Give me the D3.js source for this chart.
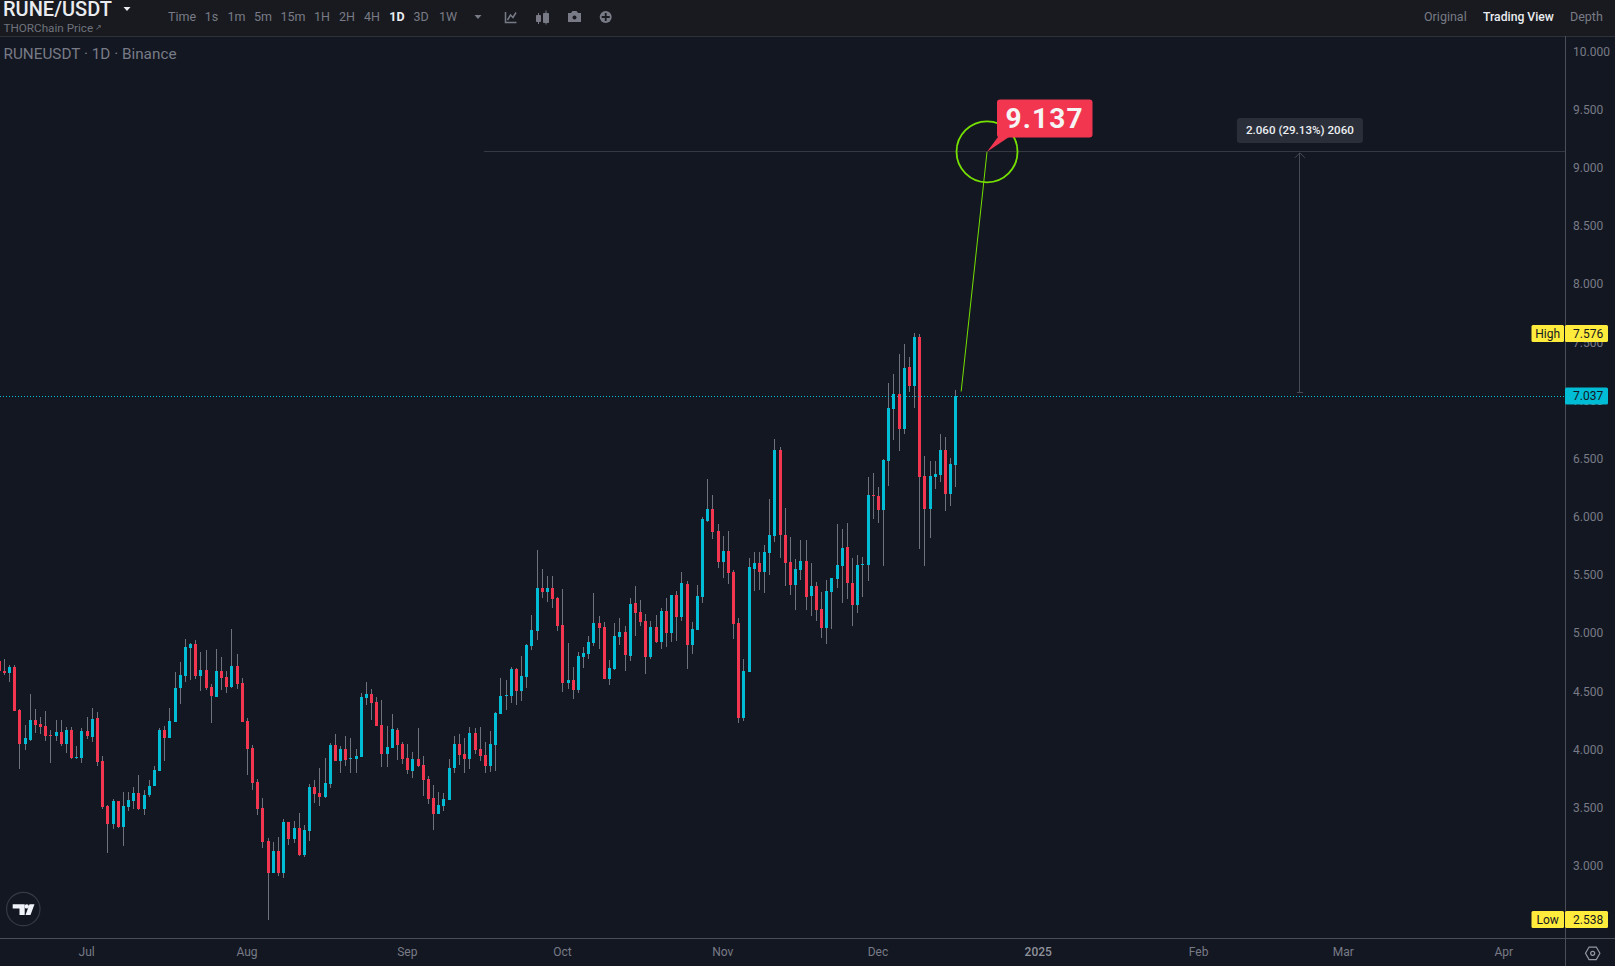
<!DOCTYPE html>
<html>
<head>
<meta charset="utf-8">
<script src="https://cdn.jsdelivr.net/npm/d3@7/dist/d3.min.js"></script>
<style>
html,body{margin:0;padding:0;background:#131722;overflow:hidden}
svg{display:block}
text{font-family:Roboto,"Noto Sans",sans-serif}
</style>
</head>
<body>
<svg id="c" width="1615" height="966"></svg>
<script>
const opens = [
4.761,4.675,4.657,4.709,4.339,4.047,4.081,4.253,4.219,4.202,
4.124,4.116,4.150,4.047,4.167,3.927,3.927,4.159,4.107,4.271,
3.901,3.514,3.359,3.557,3.334,3.506,3.557,3.626,3.488,3.609,
3.686,3.815,4.167,4.099,4.236,4.528,4.632,4.872,4.907,4.632,
4.683,4.537,4.451,4.675,4.623,4.537,4.718,4.571,4.245,4.013,
3.720,3.497,3.213,2.938,3.127,2.938,3.377,3.230,3.325,3.093,
3.299,3.677,3.626,3.592,3.704,4.039,3.901,4.004,3.918,3.918,
3.936,4.443,4.477,4.408,4.211,3.961,4.013,4.168,4.047,3.927,
3.815,3.918,3.867,3.747,3.583,3.446,3.514,3.566,3.841,4.047,
3.961,3.918,4.142,4.004,3.953,3.858,4.039,4.305,4.460,4.460,
4.692,4.503,4.623,4.890,5.019,5.388,5.354,5.388,5.302,5.070,
4.572,4.598,4.512,4.795,4.821,4.916,5.088,5.053,4.606,4.692,
4.967,5.010,4.804,5.259,5.182,5.105,4.795,5.053,4.924,5.190,
5.001,5.328,5.139,5.422,4.898,5.027,5.311,5.964,6.067,5.878,
5.611,5.706,5.525,5.087,4.270,4.666,5.551,5.603,5.525,5.689,
5.835,6.574,5.843,5.611,5.414,5.543,5.620,5.319,5.405,5.207,
5.044,5.354,5.465,5.577,5.740,5.431,5.242,5.586,5.586,6.187,
6.179,6.058,6.479,6.926,7.055,6.754,7.287,7.124,7.545,6.350,
6.066,6.341,6.358,6.573,6.195,6.445];
const highs = [
4.775,4.775,4.726,4.726,4.348,4.210,4.477,4.348,4.279,4.331,
4.167,4.253,4.253,4.193,4.193,4.030,4.185,4.279,4.357,4.322,
3.944,3.523,3.574,3.557,3.635,3.635,3.677,3.781,3.652,3.738,
3.858,4.185,4.202,4.357,4.666,4.752,4.950,4.915,4.941,4.838,
4.855,4.563,4.864,4.795,4.675,5.036,4.821,4.614,4.271,4.038,
3.746,3.583,3.239,3.205,3.248,3.402,3.377,3.385,3.454,3.351,
3.703,3.738,3.841,3.927,4.056,4.133,4.030,4.116,4.099,4.004,
4.486,4.580,4.520,4.451,4.426,4.202,4.305,4.185,4.065,4.047,
3.979,4.185,3.944,3.772,3.695,3.635,3.626,3.918,4.116,4.133,
4.099,4.194,4.185,4.194,4.065,4.159,4.323,4.615,4.598,4.709,
4.701,4.804,4.907,5.156,5.715,5.552,5.492,5.492,5.311,5.380,
4.916,4.709,4.838,4.881,4.976,5.345,5.148,5.096,4.769,5.088,
5.131,5.062,5.302,5.406,5.285,5.165,5.104,5.156,5.216,5.302,
5.328,5.362,5.525,5.448,5.096,5.414,5.998,6.325,6.187,5.938,
5.835,5.878,5.543,5.130,4.778,5.646,5.697,5.697,5.758,6.153,
6.669,6.600,6.076,5.826,5.637,5.800,5.800,5.603,5.439,5.354,
5.457,5.474,5.938,5.895,5.947,5.646,5.672,5.654,6.342,6.376,
6.256,6.497,7.149,7.227,7.399,7.485,7.373,7.576,7.571,6.522,
6.479,6.479,6.711,6.685,6.505,7.089];
const lows = [
4.669,4.640,4.580,4.334,3.832,3.996,4.073,4.142,4.133,4.073,
3.884,4.073,4.030,3.970,3.918,3.918,3.884,4.090,4.064,3.858,
3.488,3.110,3.316,3.325,3.170,3.471,3.488,3.480,3.437,3.592,
3.686,3.815,3.901,4.099,4.236,4.391,4.580,4.597,4.606,4.503,
4.511,4.228,4.451,4.511,4.486,4.528,4.520,4.236,3.781,3.652,
3.437,3.153,2.538,2.938,2.912,2.895,3.179,3.196,3.084,3.076,
3.213,3.540,3.514,3.583,3.669,3.901,3.798,3.858,3.798,3.798,
3.936,4.383,4.254,4.202,3.850,3.850,4.013,3.910,3.876,3.790,
3.755,3.850,3.600,3.532,3.308,3.446,3.472,3.566,3.798,3.867,
3.798,3.833,3.961,3.901,3.798,3.807,3.815,4.305,4.340,4.400,
4.383,4.417,4.529,4.855,4.941,5.302,5.268,5.216,5.019,4.494,
4.520,4.434,4.486,4.701,4.778,4.890,4.864,4.606,4.555,4.684,
4.898,4.675,4.761,4.976,5.062,4.649,4.778,4.915,4.864,4.881,
4.924,4.932,5.104,4.692,4.821,5.027,5.259,5.955,5.809,5.560,
5.474,5.422,4.949,4.227,4.245,4.666,5.362,5.371,5.345,5.500,
5.783,5.646,5.405,5.328,5.199,5.457,5.199,5.147,5.104,4.958,
4.907,5.035,5.388,5.259,5.293,5.061,5.173,5.311,5.448,5.981,
5.947,5.577,6.264,6.660,6.565,6.711,7.072,6.935,5.722,5.576,
5.817,6.238,6.298,6.049,6.092,6.255];
const closes = [
4.677,4.657,4.709,4.334,4.047,4.099,4.253,4.210,4.193,4.116,
4.116,4.150,4.047,4.167,3.927,3.935,4.159,4.116,4.262,3.892,
3.506,3.359,3.557,3.334,3.514,3.566,3.626,3.488,3.609,3.686,
3.824,4.167,4.099,4.245,4.528,4.640,4.881,4.907,4.632,4.683,
4.528,4.460,4.675,4.614,4.537,4.718,4.563,4.236,4.004,3.712,
3.488,3.205,2.938,3.127,2.938,3.377,3.230,3.325,3.093,3.308,
3.677,3.617,3.592,3.712,4.039,3.901,4.004,3.910,3.927,3.944,
4.451,4.477,4.400,4.202,3.961,4.022,4.176,4.039,3.918,3.824,
3.918,3.858,3.738,3.575,3.446,3.523,3.575,3.841,4.047,3.953,
3.918,4.142,3.996,3.944,3.858,4.047,4.314,4.460,4.469,4.692,
4.503,4.632,4.898,5.027,5.388,5.354,5.388,5.294,5.062,4.572,
4.598,4.512,4.804,4.830,4.924,5.088,5.045,4.606,4.701,4.976,
5.010,4.812,5.251,5.174,5.096,4.795,5.053,4.924,5.190,5.001,
5.328,5.139,5.431,4.898,5.035,5.319,5.981,6.067,5.869,5.611,
5.706,5.517,5.078,4.270,4.674,5.568,5.603,5.525,5.697,5.843,
6.574,5.843,5.603,5.414,5.551,5.620,5.311,5.405,5.199,5.044,
5.362,5.474,5.586,5.732,5.431,5.242,5.586,5.594,6.187,6.179,
6.058,6.488,6.935,7.055,6.754,7.278,7.124,7.545,6.341,6.066,
6.350,6.367,6.573,6.195,6.453,7.037];

const priceTicks = [10,9.5,9,8.5,8,7.5,7,6.5,6,5.5,5,4.5,4,3.5,3];
const monthTicks = [new Date(Date.UTC(2024,6,1)),new Date(Date.UTC(2024,7,1)),new Date(Date.UTC(2024,8,1)),new Date(Date.UTC(2024,9,1)),new Date(Date.UTC(2024,10,1)),new Date(Date.UTC(2024,11,1)),new Date(Date.UTC(2025,0,1)),new Date(Date.UTC(2025,1,1)),new Date(Date.UTC(2025,2,1)),new Date(Date.UTC(2025,3,1))];
const monthLabels = ["Jul","Aug","Sep","Oct","Nov","Dec","2025","Feb","Mar","Apr"];
const intervals = ["1s","1m","5m","15m","1H","2H","4H","1D","3D","1W"];
const intervalCentres = [211.6,236.6,263,293,322,347,372,397,421,448];
const firstDay = new Date(Date.UTC(2024,5,14));
const high52 = 7.576, low52 = 2.538, last = 7.037, target = 9.137, measureFrom = 7.077;

const day = i => d3.utcDay.offset(firstDay, i);
const candles = opens.map((o,i)=>({date:day(i),o,h:highs[i],l:lows[i],c:closes[i]}));

const AX = 1565, AB = 938, HD = 36;
const x = d3.scaleUtc().domain([monthTicks[0],monthTicks[9]]).range([87.15,1504.2]);
const y = d3.scaleLinear().domain([3,10]).range([865.8,51.4]);

const UP="#00bcd4", DOWN="#f23650", WICK="#6f727c", AXC="#787b86", LINE="#363942", GREEN="#76e000";
const svg = d3.select("#c");
svg.append("rect").attr("width",1615).attr("height",966).attr("fill","#131722");

/* header */
svg.append("rect").attr("width",1615).attr("height",HD).attr("fill","#181a1f");
svg.append("rect").attr("y",HD).attr("width",1615).attr("height",1).attr("fill","#2f3138");
const hdr = svg.append("g");
hdr.append("text").text("RUNE/USDT").attr("x",3).attr("y",15.5).attr("fill","#eaecef").attr("font-size",20).attr("font-weight",500);
hdr.append("path").attr("d","M123.5 7h7l-3.5 4z").attr("fill","#eaecef");
hdr.append("text").text("THORChain Price").attr("x",3.5).attr("y",32).attr("fill","#6f727c").attr("font-size",11.7);
hdr.append("text").text("↗").attr("x",95).attr("y",30).attr("fill","#6f727c").attr("font-size",8);
hdr.append("text").text("Time").attr("x",168).attr("y",20.5).attr("fill",AXC).attr("font-size",12.5);
hdr.selectAll("text.iv").data(intervals).join("text").attr("class","iv").text(d=>d)
  .attr("x",(d,i)=>intervalCentres[i]).attr("y",20.5).attr("text-anchor","middle")
  .attr("font-size",12.5).attr("font-weight",d=>d==="1D"?700:400).attr("fill",d=>d==="1D"?"#eaecef":AXC);
hdr.append("path").attr("d","M474.5 15h7l-3.5 4z").attr("fill",AXC);
hdr.append("path").attr("d","M505.5 12v10.5h11M507.5 20l3-5 2.5 2.5 3-5").attr("fill","none").attr("stroke",AXC).attr("stroke-width",1.5);
hdr.append("path").attr("d","M536.5 15.5h4v6h-4zM538.5 13v11M543.5 13.5h5v9h-5zM546 10.5v14").attr("fill",AXC).attr("stroke",AXC).attr("stroke-width",1);
hdr.append("path").attr("d","M568 13h3l1.5-2h4l1.5 2h3v9h-13z").attr("fill",AXC);
hdr.append("circle").attr("cx",574.5).attr("cy",17.5).attr("r",2).attr("fill","#181a1f");
hdr.append("circle").attr("cx",605.7).attr("cy",17).attr("r",6).attr("fill",AXC);
hdr.append("path").attr("d","M605.7 13v8M601.7 17h8").attr("stroke","#181a1f").attr("stroke-width",1.8);
hdr.append("text").text("Original").attr("x",1424).attr("y",20.5).attr("fill",AXC).attr("font-size",12.5);
hdr.append("text").text("Trading View").attr("x",1483).attr("y",20.5).attr("fill","#eaecef").attr("font-size",12.2).attr("font-weight",500);
hdr.append("text").text("Depth").attr("x",1570).attr("y",20.5).attr("fill",AXC).attr("font-size",12.5);
svg.append("text").text("RUNEUSDT · 1D · Binance").attr("x",3.5).attr("y",58.5).attr("fill",AXC).attr("font-size",15.3);

/* annotation lines below candles */
svg.append("line").attr("x1",x(d3.utcHour.offset(day(93),17))).attr("x2",AX).attr("y1",y(target)).attr("y2",y(target)).attr("stroke",LINE).attr("stroke-width",1).attr("shape-rendering","crispEdges");

/* candles */
const left = d => Math.round(x(d.date)-1.5);
const g = svg.append("g");
g.selectAll("rect.w").data(candles).join("rect").attr("class","w")
  .attr("x",d=>left(d)+1).attr("width",1)
  .attr("y",d=>y(d.h)).attr("height",d=>y(d.l)-y(d.h))
  .attr("fill",WICK).attr("shape-rendering","crispEdges");
g.selectAll("rect.b").data(candles).join("rect").attr("class","b")
  .attr("x",left).attr("width",3)
  .attr("y",d=>y(Math.max(d.o,d.c))).attr("height",d=>Math.max(1,Math.abs(y(d.o)-y(d.c))))
  .attr("fill",d=>d.c>=d.o?UP:DOWN).attr("shape-rendering","crispEdges");

/* last price line */
svg.append("line").attr("x1",0).attr("x2",AX).attr("y1",y(last)).attr("y2",y(last))
  .attr("stroke",UP).attr("stroke-width",1).attr("stroke-dasharray","1 2").attr("shape-rendering","crispEdges");

/* target drawing */
const tx = x(day(191)), sx = x(day(186));
svg.append("line").attr("x1",sx).attr("y1",y(measureFrom)).attr("x2",tx).attr("y2",y(target)).attr("stroke",GREEN).attr("stroke-width",1);
svg.append("circle").attr("cx",tx).attr("cy",y(target)).attr("r",30.5).attr("fill","none").attr("stroke",GREEN).attr("stroke-width",1.8);
const ty=y(target);
svg.append("path").attr("d",`M${tx} ${ty}L998 137L1009 137Z`).attr("fill",DOWN);
svg.append("rect").attr("x",997).attr("y",99.5).attr("width",95.5).attr("height",38).attr("rx",3).attr("fill",DOWN);
svg.append("text").text(target.toFixed(3)).attr("x",1044.7).attr("y",127.5).attr("text-anchor","middle")
  .attr("fill","#f5f5f5").attr("font-size",28).attr("font-weight",700).attr("letter-spacing",1.2);

/* measure arrow */
const mx = x(d3.utcHour.offset(day(251),12));
svg.append("line").attr("x1",mx).attr("x2",mx).attr("y1",y(measureFrom)+1).attr("y2",y(target)+1).attr("stroke","#474a54").attr("shape-rendering","crispEdges");
svg.append("line").attr("x1",mx-3).attr("x2",mx+3).attr("y1",y(measureFrom)+1).attr("y2",y(measureFrom)+1).attr("stroke","#474a54").attr("shape-rendering","crispEdges");
svg.append("path").attr("d",`M${mx-5} ${y(target)+6}L${mx} ${y(target)+1}L${mx+5} ${y(target)+6}`).attr("fill","none").attr("stroke","#474a54");
svg.append("rect").attr("x",mx-63).attr("y",118).attr("width",126).attr("height",25).attr("rx",3).attr("fill","#2a2e39");
svg.append("text").text("2.060 (29.13%) 2060").attr("x",mx).attr("y",134).attr("text-anchor","middle")
  .attr("fill","#eceef2").attr("font-size",11.6).attr("font-weight",500);

/* axes frame */
svg.append("rect").attr("x",AX).attr("y",HD).attr("width",1).attr("height",966-HD).attr("fill","#4b4e57");
svg.append("rect").attr("x",0).attr("y",AB).attr("width",1615).attr("height",1).attr("fill","#4b4e57");

const yAxis = d3.axisRight(y).tickValues(priceTicks).tickFormat(d3.format(".3f")).tickSize(0).tickPadding(8);
const yg = svg.append("g").attr("transform",`translate(${AX},0)`).call(yAxis);
yg.select(".domain").remove();
yg.selectAll("text").attr("fill",AXC).attr("font-size",12).style("font-family","Roboto");

const xAxis = d3.axisBottom(x).tickValues(monthTicks).tickFormat((d,i)=>monthLabels[i]).tickSize(0).tickPadding(9);
const xg = svg.append("g").attr("transform",`translate(-1,${AB})`).call(xAxis);
xg.select(".domain").remove();
xg.selectAll("text").attr("fill",(d,i)=>monthLabels[i]==="2025"?"#8f929b":AXC).attr("font-size",12).attr("font-weight",(d,i)=>monthLabels[i]==="2025"?500:400).style("font-family","Roboto");

/* price tags */
function tag(v,fill,lab){
  const c=y(v), t=c-8.5;
  svg.append("rect").attr("x",AX).attr("y",t).attr("width",43).attr("height",17).attr("rx",1.5).attr("fill",fill);
  svg.append("text").text(v.toFixed(3)).attr("x",1573).attr("y",c+4.2).attr("fill","#131722").attr("font-size",12);
  if(lab){
    svg.append("rect").attr("x",1531.5).attr("y",t).attr("width",32.5).attr("height",17).attr("rx",1.5).attr("fill",fill);
    svg.append("text").text(lab).attr("x",1547.7).attr("y",c+4.2).attr("text-anchor","middle").attr("fill","#131722").attr("font-size",12);
  }
}
tag(high52,"#ffeb3b","High");
tag(low52,"#ffeb3b","Low");
tag(last,UP,null);

/* logo + settings */
svg.append("circle").attr("cx",23.3).attr("cy",909).attr("r",16.7).attr("fill","#131722").attr("stroke","#363a45").attr("stroke-width",1.2);
svg.append("path").attr("d","M12.7 904.3h12v10.7h-5.2v-6.6h-6.8zM25.5 915l4-10.7h5l-4 10.7z").attr("fill","#f0f3fa");
svg.append("circle").attr("cx",26.8).attr("cy",906.4).attr("r",2.2).attr("fill","#f0f3fa");
svg.append("path").attr("d",d3.range(6).map(k=>{const a=Math.PI/3*k;return (k?"L":"M")+(1592.7+7.2*Math.cos(a))+" "+(953.3+7.2*Math.sin(a));}).join("")+"Z").attr("fill","none").attr("stroke","#9598a1").attr("stroke-width",1.2);
svg.append("circle").attr("cx",1592.7).attr("cy",953.3).attr("r",2).attr("fill","none").attr("stroke","#9598a1").attr("stroke-width",1.2);
</script>
</body>
</html>
